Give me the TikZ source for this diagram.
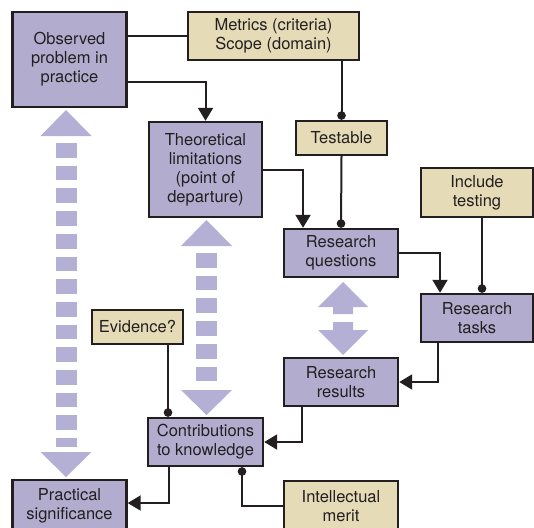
\documentclass[tikz,border=0pt]{standalone}
\usepackage{fontspec}
\setmainfont{TeX Gyre Heros}
\usetikzlibrary{arrows.meta}
\definecolor{lav}{HTML}{B2ADCF}
\definecolor{lavlight}{HTML}{B4AFD4}
\definecolor{tan}{HTML}{E5DBB7}
\definecolor{ink}{HTML}{231F20}
\begin{document}
\begin{tikzpicture}[x=1pt,y=-1pt,
  box/.style={draw=ink,line width=2.4pt,align=center,inner sep=0pt,
    font=\fontsize{16.5}{19}\selectfont,text=ink},
  mainbox/.style={box,fill=lav},
  notebox/.style={box,fill=tan},
  conn/.style={draw=ink,line width=2pt},
  arr/.style={conn,-{Triangle[length=13pt,width=15pt]}},
  dotted end/.style={conn,-{Circle[length=8.5pt]}},
  bigshaft/.style={draw=lavlight,line width=21pt,dash pattern=on 14.7pt off 8pt},
]
\useasboundingbox (0,0) rectangle (534,527);

% main boxes
\node[mainbox,minimum width=114pt,minimum height=95pt] (obs) at (69.5,59.5) {Observed\\problem in\\practice};
\node[mainbox,minimum width=113pt,minimum height=95pt] (theo) at (205.5,169.5) {Theoretical\\limitations\\(point of\\departure)};
\node[mainbox,minimum width=114pt,minimum height=48pt] (rq) at (341,253) {Research\\questions};
\node[mainbox,minimum width=112pt,minimum height=48pt] (tasks) at (477,318) {Research\\tasks};
\node[mainbox,minimum width=114pt,minimum height=48pt] (res) at (341,382) {Research\\results};
\node[mainbox,minimum width=115pt,minimum height=48pt] (contrib) at (205.5,442) {Contributions\\to knowledge};
\node[mainbox,minimum width=114pt,minimum height=51pt] (prac) at (69.5,505.5) {Practical\\significance};

% annotation boxes
\node[notebox,minimum width=171pt,minimum height=48pt] (met) at (273.5,36) {Metrics (criteria)\\Scope (domain)};
\node[notebox,minimum width=91pt,minimum height=34pt] (test) at (341.5,138) {Testable};
\node[notebox,minimum width=112pt,minimum height=49pt] (incl) at (477,192.5) {Include\\testing};
\node[notebox,minimum width=91pt,minimum height=34pt] (evid) at (137.5,327) {Evidence?};
\node[notebox,minimum width=114pt,minimum height=50pt] (intel) at (341,506) {Intellectual\\merit};

% connectors
\draw[conn] (met.west) -- (met.west -| obs.east);
\draw[arr] ([yshift=-22.5pt]obs.east) -| (theo.north);
\draw[dotted end] (test.north |- met.south) -- (test.north);
\draw[dotted end] (test.south) -- (rq.north);
\draw[arr] (theo.east) -| ([xshift=-38pt]rq.north);
\draw[arr] (rq.east) -| ([xshift=-37pt]tasks.north);
\draw[dotted end] ([xshift=5pt]incl.south) -- ([xshift=5pt]tasks.north);
\draw[arr] ([xshift=-39pt]tasks.south) |- (res.east);
\draw[arr] ([xshift=-39pt]res.south) |- (contrib.east);
\draw[dotted end] ([xshift=-37.5pt]contrib.north |- evid.south) -- ([xshift=-37.5pt]contrib.north);
\draw[arr] ([xshift=-36.5pt]contrib.south) |- ([yshift=2.5pt]prac.east);
\draw[conn,{Circle[length=8.5pt]}-] ([xshift=36.5pt]contrib.south) |- (intel.west);

% broad dashed arrows
\fill[lavlight] (66,110) -- (91.5,136) -- (40.5,136) -- cycle;
\draw[bigshaft] (66,143) -- (66,447);
\fill[lavlight] (66,477) -- (91.5,452) -- (40.5,452) -- cycle;

\fill[lavlight] (206.5,220) -- (232,246) -- (181,246) -- cycle;
\draw[bigshaft] (206.5,253) -- (206.5,383);
\fill[lavlight] (206.5,415) -- (232,390) -- (181,390) -- cycle;

% short double arrow between questions and results
\fill[lavlight] (343,282) -- (368,307) -- (353,307) -- (353,314) -- (333,314) -- (333,307) -- (318,307) -- cycle;
\fill[lavlight] (343,355) -- (368,330) -- (353,330) -- (353,322) -- (333,322) -- (333,330) -- (318,330) -- cycle;
\end{tikzpicture}
\end{document}
